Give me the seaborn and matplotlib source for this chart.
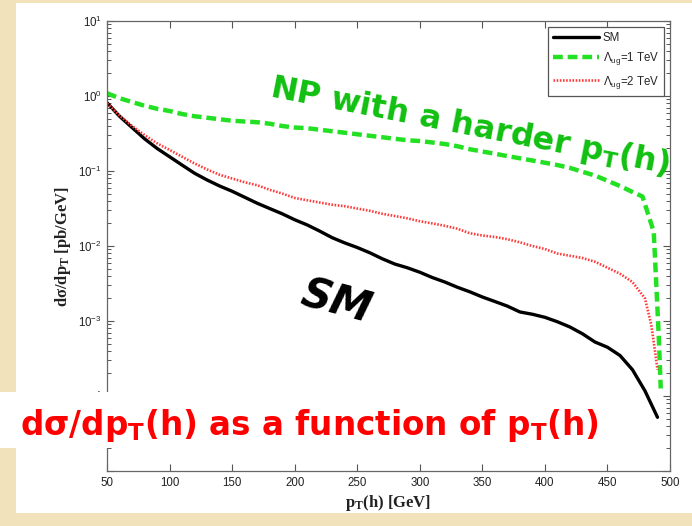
import numpy as np
import pandas as pd
import matplotlib
matplotlib.use("Agg")
import matplotlib.pyplot as plt
import seaborn as sns
from matplotlib.patches import Rectangle
from matplotlib.ticker import LogLocator, FixedLocator, FuncFormatter

# ---------------- data ----------------
pt_sm = [50, 60, 70, 80, 90, 100, 110, 120, 130, 140, 150, 160, 170, 180, 190,
         200, 210, 220, 230, 240, 250, 260, 270, 280, 290, 300, 310, 320, 330,
         340, 350, 360, 370, 380, 390, 400, 410, 420, 430, 440, 450, 460, 470,
         480, 490]
sm = [0.813, 0.537, 0.380, 0.269, 0.200, 0.155, 0.120, 0.0933, 0.0759, 0.0631,
      0.0537, 0.0447, 0.0372, 0.0316, 0.0269, 0.0224, 0.0191, 0.0158, 0.0129,
      0.0110, 0.00955, 0.00813, 0.00676, 0.00575, 0.00513, 0.00447, 0.00380,
      0.00331, 0.00282, 0.00245, 0.00209, 0.00182, 0.00158, 0.00132, 0.00123,
      0.00112, 0.000977, 0.000832, 0.000676, 0.000525, 0.000447, 0.000347,
      0.000224, 0.000117, 0.000052]

pt_np1 = [50, 60, 70, 80, 90, 100, 110, 120, 130, 140, 150, 160, 170, 180, 190,
          200, 210, 220, 230, 240, 250, 260, 270, 280, 290, 300, 310, 320, 330,
          340, 350, 360, 370, 380, 390, 400, 410, 420, 430, 440, 450, 460, 470,
          478, 487, 489, 491, 492.6]
np1 = [1.09, 0.933, 0.832, 0.741, 0.676, 0.631, 0.575, 0.537, 0.513, 0.490,
       0.468, 0.457, 0.447, 0.427, 0.398, 0.380, 0.372, 0.355, 0.339, 0.324,
       0.309, 0.295, 0.282, 0.269, 0.257, 0.251, 0.240, 0.229, 0.214, 0.195,
       0.182, 0.170, 0.158, 0.148, 0.138, 0.129, 0.120, 0.110, 0.0977, 0.0871,
       0.0741, 0.0631, 0.0525, 0.0457, 0.0155, 0.00316, 0.000631, 0.000126]

pt_np2 = [50, 60, 70, 80, 90, 100, 110, 120, 130, 140, 150, 160, 170, 180, 190,
          200, 210, 220, 230, 240, 250, 260, 270, 280, 290, 300, 310, 320, 330,
          340, 350, 360, 370, 380, 390, 400, 410, 420, 430, 440, 450, 460, 470,
          480, 485, 488, 490]
np2 = [0.794, 0.550, 0.398, 0.302, 0.234, 0.191, 0.155, 0.126, 0.105, 0.0891,
       0.0794, 0.0708, 0.0646, 0.0562, 0.0501, 0.0437, 0.0407, 0.0380, 0.0355,
       0.0339, 0.0316, 0.0295, 0.0269, 0.0251, 0.0234, 0.0214, 0.0200, 0.0186,
       0.0170, 0.0148, 0.0138, 0.0132, 0.0123, 0.0112, 0.0100, 0.00912,
       0.00794, 0.00741, 0.00692, 0.00617, 0.00513, 0.00427, 0.00331, 0.00200,
       0.000891, 0.000398, 0.000224]

series_labels = ["SM", r"$\Lambda_{\mathregular{ug}}$=1 TeV", r"$\Lambda_{\mathregular{ug}}$=2 TeV"]
x_ticks = [50, 100, 150, 200, 250, 300, 350, 400, 450, 500]
y_decades = [1e-5, 1e-4, 1e-3, 1e-2, 1e-1, 1e0, 1e1]

# ---------------- figure ----------------
W, H = 692, 526
sns.set_style("ticks")
plt.rcParams["font.family"] = ["Liberation Sans", "DejaVu Sans"]
plt.rcParams["mathtext.fontset"] = "custom"
plt.rcParams["mathtext.rm"] = "Liberation Sans"
plt.rcParams["mathtext.it"] = "Liberation Sans:italic"

fig = plt.figure(figsize=(W / 100, H / 100), dpi=100)
fig.patch.set_facecolor("#f1e2bb")


def px(x0, y0, x1, y1):
    return [x0 / W, 1 - y1 / H, (x1 - x0) / W, (y1 - y0) / H]


# white slide panel behind the chart
b = px(16, 3, 692, 513)
fig.patches.append(Rectangle((b[0], b[1]), b[2], b[3], transform=fig.transFigure,
                             facecolor="white", edgecolor="none", zorder=-10))

ax = fig.add_axes(px(107, 21, 670, 471))
ax.set_facecolor("white")

line_kw = dict(ax=ax, estimator=None, sort=False)
sns.lineplot(x=pt_sm, y=sm, color="black", lw=2.4, label=series_labels[0], **line_kw)
sns.lineplot(x=pt_np1, y=np1, color="#22e022", lw=3.2, label=series_labels[1],
             **line_kw)
sns.lineplot(x=pt_np2, y=np2, color="#ff3a3a", lw=1.9, label=series_labels[2],
             **line_kw)
ax.lines[1].set_dashes([2.2, 1.1])
ax.lines[2].set_dashes([0.6, 0.6])

ax.set_yscale("log")
ax.set_xlim(50, 500)
ax.set_ylim(1e-5, 1e1)
ax.xaxis.set_major_locator(FixedLocator(x_ticks))
ax.yaxis.set_major_locator(FixedLocator(y_decades))
ax.yaxis.set_minor_locator(LogLocator(base=10, subs=np.arange(2, 10), numticks=20))


def yfmt(v, pos):
    e = int(round(np.log10(v)))
    if e <= -5:
        return ""
    return r"$10^{%d}$" % e


ax.yaxis.set_major_formatter(FuncFormatter(yfmt))

for s in ax.spines.values():
    s.set_color("#666666")
    s.set_linewidth(0.9)
    s.set_visible(True)
ax.tick_params(which="both", direction="in", top=True, right=True,
               colors="#555555", labelcolor="#222222", labelsize=8.3)
ax.tick_params(which="major", length=5, width=0.8)
ax.tick_params(which="minor", length=2.8, width=0.7)
ax.tick_params(axis="x", pad=4)

ax.set_xlabel(r"p$_\mathregular{T}$(h) [GeV]", family="Liberation Serif",
              fontweight="bold", fontsize=12, color="#222222", labelpad=3)
ax.set_ylabel(r"d$\mathregular{\sigma}$/dp$_\mathregular{T}$ [pb/GeV]",
              family="Liberation Serif", fontweight="bold", fontsize=12,
              color="#222222", labelpad=4)

leg = ax.legend(loc="upper right", frameon=True, fancybox=False, fontsize=8.3,
                handlelength=4.0, handletextpad=0.3, labelspacing=0.55,
                borderpad=0.45, borderaxespad=0.5, framealpha=1)
leg.get_frame().set_edgecolor("#555555")
leg.get_frame().set_linewidth(0.9)

# annotations
fig.text(470 / W, 1 - 127 / H, r"NP with a harder p$_\mathregular{T}$(h)",
         color="#11c011", fontsize=23, fontweight="bold", rotation=-11,
         ha="center", va="center", family="DejaVu Sans")
fig.text(336 / W, 1 - 302 / H, "SM", color="black", fontsize=30,
         fontweight="bold", style="italic", rotation=-15, ha="center",
         va="center", family="DejaVu Sans")

# overlay caption box
ob = px(0, 392, 620, 448)
fig.patches.append(Rectangle((ob[0], ob[1]), ob[2], ob[3], transform=fig.transFigure,
                             facecolor="white", edgecolor="none", zorder=20))
t = fig.text(309 / W, 1 - 425 / H,
             r"d$\mathregular{\sigma}$/dp$_\mathregular{T}$(h) as a function of p$_\mathregular{T}$(h)",
             color="#ff0000", fontsize=23.5, fontweight="bold", ha="center",
             va="center", family="DejaVu Sans", zorder=21)

fig.savefig("out.png", dpi=100, facecolor=fig.get_facecolor())
